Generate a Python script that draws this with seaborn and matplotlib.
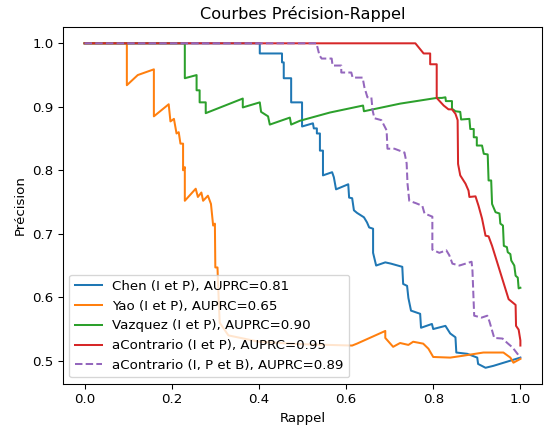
import pandas as pd
import matplotlib
matplotlib.use("Agg")
import matplotlib.pyplot as plt
import seaborn as sns

# courbes (rappel, précision)
chen_r = [0, 0.402, 0.402, 0.453, 0.453, 0.457, 0.457, 0.474, 0.474, 0.499, 0.499, 0.524, 0.526,
          0.533, 0.533, 0.540, 0.540, 0.547, 0.547, 0.568, 0.572, 0.577, 0.605, 0.607, 0.614, 0.618,
          0.625, 0.641, 0.648, 0.653, 0.662, 0.662, 0.669, 0.690, 0.703, 0.729, 0.731, 0.740, 0.743,
          0.749, 0.770, 0.772, 0.797, 0.800, 0.828, 0.839, 0.851, 0.853, 0.878, 0.901, 0.903, 0.920,
          0.938, 1.0]
chen_p = [1.0, 1.0, 0.984, 0.984, 0.970, 0.970, 0.945, 0.945, 0.907, 0.907, 0.869, 0.874, 0.866,
          0.866, 0.858, 0.858, 0.831, 0.831, 0.792, 0.797, 0.789, 0.770, 0.778, 0.757, 0.756, 0.737,
          0.733, 0.726, 0.718, 0.710, 0.708, 0.670, 0.650, 0.655, 0.653, 0.648, 0.621, 0.618, 0.599,
          0.579, 0.574, 0.552, 0.558, 0.550, 0.555, 0.543, 0.537, 0.513, 0.511, 0.505, 0.495, 0.489,
          0.492, 0.505]

yao_r = [0, 0.097, 0.097, 0.122, 0.159, 0.159, 0.193, 0.197, 0.205, 0.211, 0.216, 0.220, 0.226,
         0.226, 0.230, 0.230, 0.255, 0.260, 0.268, 0.272, 0.283, 0.290, 0.295, 0.299, 0.300, 0.305,
         0.306, 0.310, 0.330, 0.400, 0.500, 0.560, 0.614, 0.625, 0.690, 0.690, 0.708, 0.724, 0.743,
         0.754, 0.777, 0.789, 0.800, 0.839, 0.869, 0.915, 0.961, 0.977, 0.984, 1.0]
yao_p = [1.0, 1.0, 0.934, 0.950, 0.959, 0.885, 0.904, 0.877, 0.881, 0.858, 0.860, 0.842, 0.842,
         0.800, 0.805, 0.752, 0.771, 0.758, 0.765, 0.752, 0.760, 0.747, 0.713, 0.716, 0.647, 0.647,
         0.626, 0.560, 0.540, 0.530, 0.526, 0.525, 0.524, 0.527, 0.547, 0.536, 0.522, 0.528, 0.525,
         0.530, 0.527, 0.519, 0.506, 0.505, 0.508, 0.513, 0.513, 0.505, 0.497, 0.503]

vaz_r = [0, 0.230, 0.230, 0.257, 0.257, 0.264, 0.264, 0.278, 0.278, 0.363, 0.363, 0.402, 0.405,
         0.421, 0.425, 0.471, 0.474, 0.494, 0.563, 0.639, 0.641, 0.724, 0.808, 0.820, 0.828, 0.829,
         0.843, 0.843, 0.851, 0.862, 0.864, 0.883, 0.885, 0.893, 0.893, 0.900, 0.900, 0.912, 0.916,
         0.925, 0.927, 0.933, 0.935, 0.943, 0.952, 0.954, 0.960, 0.962, 0.969, 0.971, 0.977, 0.979,
         0.986, 0.989, 0.994, 0.996, 1.0]
vaz_p = [1.0, 1.0, 0.945, 0.950, 0.926, 0.926, 0.907, 0.907, 0.890, 0.913, 0.899, 0.907, 0.892,
         0.885, 0.872, 0.883, 0.872, 0.878, 0.891, 0.902, 0.893, 0.905, 0.914, 0.914, 0.915, 0.909,
         0.909, 0.897, 0.893, 0.892, 0.880, 0.881, 0.865, 0.865, 0.852, 0.852, 0.839, 0.839, 0.826,
         0.825, 0.784, 0.784, 0.747, 0.734, 0.732, 0.716, 0.713, 0.681, 0.679, 0.671, 0.668, 0.658,
         0.650, 0.634, 0.631, 0.614, 0.615]

ac_r = [0, 0.759, 0.778, 0.793, 0.793, 0.808, 0.808, 0.824, 0.835, 0.843, 0.851, 0.856, 0.857,
        0.862, 0.874, 0.881, 0.883, 0.897, 0.904, 0.912, 0.920, 0.927, 0.935, 0.973, 0.989, 0.990,
        0.996, 1.0, 1.0]
ac_p = [1.0, 1.0, 0.984, 0.984, 0.967, 0.967, 0.914, 0.902, 0.896, 0.896, 0.889, 0.879, 0.810,
        0.792, 0.779, 0.768, 0.758, 0.759, 0.744, 0.724, 0.697, 0.696, 0.681, 0.597, 0.588, 0.555,
        0.549, 0.532, 0.524]

acb_r = [0, 0.532, 0.539, 0.544, 0.567, 0.569, 0.589, 0.589, 0.612, 0.615, 0.638, 0.642, 0.649,
         0.658, 0.661, 0.665, 0.681, 0.693, 0.695, 0.711, 0.734, 0.739, 0.741, 0.745, 0.761, 0.775,
         0.780, 0.798, 0.798, 0.814, 0.830, 0.837, 0.844, 0.860, 0.888, 0.890, 0.894, 0.911, 0.924,
         0.929, 0.940, 0.959, 0.970, 0.982, 0.991, 1.0]
acb_p = [1.0, 1.0, 0.981, 0.976, 0.976, 0.965, 0.965, 0.954, 0.954, 0.946, 0.946, 0.931, 0.915,
         0.915, 0.894, 0.882, 0.879, 0.863, 0.834, 0.834, 0.828, 0.811, 0.779, 0.752, 0.748, 0.744,
         0.732, 0.727, 0.675, 0.670, 0.674, 0.666, 0.653, 0.650, 0.656, 0.642, 0.571, 0.568, 0.571,
         0.562, 0.536, 0.535, 0.528, 0.521, 0.513, 0.505]

labels = ["Chen (I et P), AUPRC=0.81",
          "Yao (I et P), AUPRC=0.65",
          "Vazquez (I et P), AUPRC=0.90",
          "aContrario (I et P), AUPRC=0.95",
          "aContrario (I, P et B), AUPRC=0.89"]
couleurs = ["#1f77b4", "#ff7f0e", "#2ca02c", "#d62728", "#9467bd"]
styles = ["-", "-", "-", "-", "--"]

courbes = [(chen_r, chen_p), (yao_r, yao_p), (vaz_r, vaz_p), (ac_r, ac_p), (acb_r, acb_p)]

dpi = 96.6
fig, ax = plt.subplots(figsize=(546 / dpi, 430 / dpi), dpi=dpi)
fig.subplots_adjust(left=0.115, right=0.993, top=0.937, bottom=0.107)

for (r, p), lab, c, ls in zip(courbes, labels, couleurs, styles):
    df = pd.DataFrame({"Rappel": r, "Précision": p})
    sns.lineplot(data=df, x="Rappel", y="Précision", sort=False, estimator=None,
                 color=c, linestyle=ls, linewidth=1.5, label=lab, ax=ax)

ax.set_title("Courbes Précision-Rappel")
ax.set_xlabel("Rappel")
ax.set_ylabel("Précision")
ax.legend(loc="lower left")

plt.savefig("out.png", dpi=dpi)
